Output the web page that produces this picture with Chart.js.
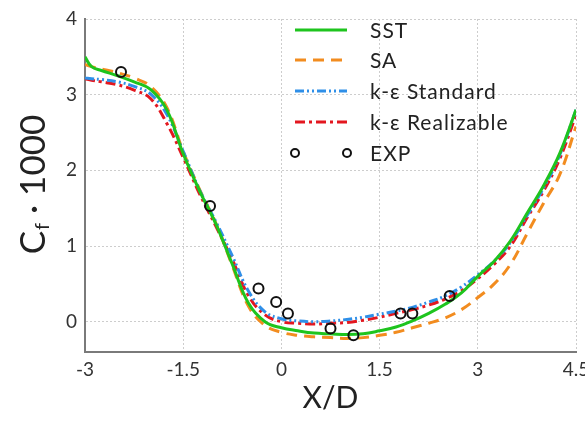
<!DOCTYPE html>
<html>
<head>
<meta charset="utf-8">
<script src="https://cdn.jsdelivr.net/npm/chart.js@4.4.1/dist/chart.umd.min.js"></script>
<style>
  html, body { margin: 0; padding: 0; background: #ffffff; }
  canvas { display: block; }
</style>
</head>
<body>
<canvas id="cf" width="585" height="422"></canvas>
<script>
// Stream-wise stations X/D
const X_D = [-3, -2.9, -2.75, -2.5, -2.25, -2, -1.75, -1.5, -1.25, -1, -0.75, -0.5, -0.25,
             0, 0.25, 0.5, 0.75, 1, 1.25, 1.5, 1.75, 2, 2.25, 2.5, 2.75,
             3, 3.25, 3.5, 3.75, 4, 4.25, 4.5];

// Skin friction Cf x 1000 for each turbulence model
const SST = [3.50, 3.37, 3.32, 3.25, 3.17, 3.07, 2.80, 2.22, 1.73, 1.29, 0.76, 0.24, 0.00,
             -0.08, -0.12, -0.15, -0.16, -0.17, -0.16, -0.12, -0.07, 0.01, 0.11, 0.23, 0.38,
             0.60, 0.80, 1.07, 1.43, 1.79, 2.22, 2.80];
const SA = [3.40, 3.37, 3.34, 3.29, 3.22, 3.11, 2.83, 2.25, 1.75, 1.30, 0.74, 0.20, -0.05,
            -0.14, -0.18, -0.20, -0.21, -0.22, -0.21, -0.18, -0.14, -0.08, -0.02, 0.05, 0.16,
            0.32, 0.50, 0.76, 1.16, 1.56, 1.94, 2.58];
const KE_STANDARD = [3.22, 3.21, 3.20, 3.17, 3.11, 3.01, 2.74, 2.25, 1.74, 1.32, 0.87, 0.40, 0.13,
                     0.04, 0.01, 0.00, 0.01, 0.03, 0.06, 0.10, 0.14, 0.19, 0.26, 0.34, 0.46,
                     0.62, 0.80, 1.05, 1.40, 1.76, 2.20, 2.80];
const KE_REALIZABLE = [3.21, 3.19, 3.17, 3.13, 3.06, 2.95, 2.62, 2.17, 1.69, 1.26, 0.82, 0.34, 0.09,
                       0.00, -0.02, -0.03, -0.02, -0.01, 0.02, 0.06, 0.11, 0.16, 0.22, 0.30, 0.41,
                       0.57, 0.76, 1.00, 1.37, 1.72, 2.15, 2.73];

// Experimental measurements
const EXP_X = [-2.45, -1.09, -0.35, -0.08, 0.10, 0.75, 1.10, 1.82, 2.00, 2.57];
const EXP_Y = [3.30, 1.53, 0.44, 0.26, 0.11, -0.09, -0.18, 0.11, 0.11, 0.34];

const X_TICKS = [-3, -1.5, 0, 1.5, 3, 4.5];
const Y_TICKS = [0, 1, 2, 3, 4];
const SERIES_NAMES = ['SST', 'SA', 'k-ε Standard', 'k-ε Realizable', 'EXP'];

const FONT = 'Lato, "DejaVu Sans", sans-serif';
const pts = (xs, ys) => xs.map((x, i) => ({ x: x, y: ys[i] }));

const curve = (label, data, color, dash) => ({
  label: label,
  data: pts(X_D, data),
  showLine: true,
  borderColor: color,
  backgroundColor: color,
  borderWidth: 3,
  borderDash: dash,
  pointRadius: 0,
  fill: false,
  tension: 0.4
});

const datasets = [
  { label: SERIES_NAMES[4], data: pts(EXP_X, EXP_Y), showLine: false,
    pointRadius: 5, pointBorderWidth: 2, pointBorderColor: '#111111',
    pointBackgroundColor: 'rgba(255,255,255,0)', borderColor: '#111111' },
  curve(SERIES_NAMES[0], SST, '#1ec41e', []),
  curve(SERIES_NAMES[2], KE_STANDARD, '#2f8fe8', [9, 3, 2, 3, 2, 3]),
  curve(SERIES_NAMES[3], KE_REALIZABLE, '#e3171f', [10, 4, 3, 4]),
  curve(SERIES_NAMES[1], SA, '#f28c1f', [11, 7])
];

// Legend inside the plot plus the y-axis title with subscript
const decorations = {
  id: 'decorations',
  afterDraw(chart) {
    const ctx = chart.ctx;
    ctx.save();
    const rows = [
      { name: SERIES_NAMES[0], ds: datasets[1], y: 30 },
      { name: SERIES_NAMES[1], ds: datasets[4], y: 60 },
      { name: SERIES_NAMES[2], ds: datasets[2], y: 91 },
      { name: SERIES_NAMES[3], ds: datasets[3], y: 122 },
      { name: SERIES_NAMES[4], ds: null, y: 153 }
    ];
    const x0 = 295, x1 = 347, tx = 370;
    ctx.font = '21px ' + FONT;
    ctx.letterSpacing = '1px';
    ctx.textBaseline = 'middle';
    ctx.textAlign = 'left';
    rows.forEach(r => {
      if (r.ds) {
        ctx.beginPath();
        ctx.setLineDash(r.ds.borderDash);
        ctx.lineWidth = 3;
        ctx.strokeStyle = r.ds.borderColor;
        ctx.moveTo(x0, r.y);
        ctx.lineTo(x1, r.y);
        ctx.stroke();
      } else {
        ctx.setLineDash([]);
        ctx.lineWidth = 2;
        ctx.strokeStyle = '#111111';
        [x0, x1].forEach(cx => {
          ctx.beginPath();
          ctx.arc(cx, r.y, 4, 0, Math.PI * 2);
          ctx.stroke();
        });
      }
      ctx.fillStyle = '#222222';
      ctx.fillText(r.name, tx, r.y + 1);
    });
    ctx.letterSpacing = '0px';

    // Y title: C_f · 1000, rotated
    ctx.setLineDash([]);
    ctx.translate(34, 185);
    ctx.rotate(-Math.PI / 2);
    const big = '35px ' + FONT, small = '20px ' + FONT;
    ctx.font = big; const wC = ctx.measureText('C').width;
    ctx.font = small; const wf = ctx.measureText('f').width;
    ctx.font = big; const wRest = ctx.measureText(' · 1000').width;
    let sx = -(wC + wf + wRest) / 2;
    ctx.fillStyle = '#222222';
    ctx.textBaseline = 'middle';
    ctx.font = big; ctx.fillText('C', sx, 0); sx += wC;
    ctx.font = small; ctx.fillText('f', sx + 1, 9); sx += wf + 1;
    ctx.font = big; ctx.fillText(' · 1000', sx, 0);
    ctx.restore();
  }
};

new Chart(document.getElementById('cf'), {
  type: 'scatter',
  data: { datasets: datasets },
  options: {
    responsive: false,
    animation: false,
    layout: { padding: { top: 19, right: 9, left: 0, bottom: 0 } },
    plugins: { legend: { display: false }, tooltip: { enabled: false } },
    scales: {
      x: {
        type: 'linear', min: -3, max: 4.5,
        afterBuildTicks: s => { s.ticks = X_TICKS.map(v => ({ value: v })); },
        afterFit: s => { s.height = 70; s.paddingLeft = 0; s.paddingRight = 0; },
        ticks: { color: '#333333', font: { family: FONT, size: 19 }, padding: 6,
                 maxRotation: 0, autoSkip: false, callback: v => String(v) },
        grid: { color: '#cdcdcd', drawTicks: false, lineWidth: 1 },
        border: { display: true, color: '#7a7a7a', width: 2, dash: [2, 2] },
        title: { display: true, text: 'X/D', color: '#222222',
                 font: { family: FONT, size: 30 }, padding: { top: 0, bottom: 6 } }
      },
      y: {
        type: 'linear', min: -0.4, max: 4,
        afterBuildTicks: s => { s.ticks = Y_TICKS.map(v => ({ value: v })); },
        afterFit: s => { s.width = 85; s.paddingTop = 0; s.paddingBottom = 0; },
        ticks: { color: '#333333', font: { family: FONT, size: 19 }, padding: 8,
                 callback: v => String(v) },
        grid: { color: '#cdcdcd', drawTicks: false, lineWidth: 1 },
        border: { display: true, color: '#7a7a7a', width: 2, dash: [2, 2] }
      }
    }
  },
  plugins: [decorations]
});
</script>
</body>
</html>
